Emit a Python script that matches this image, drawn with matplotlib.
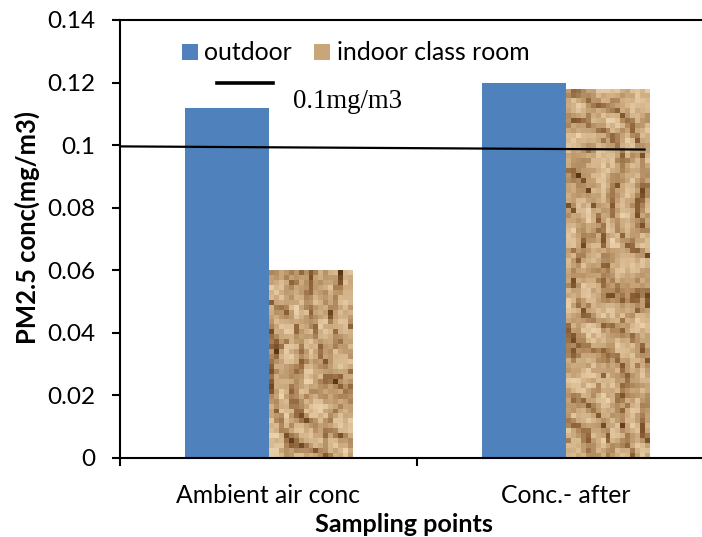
import numpy as np
import matplotlib
matplotlib.use("Agg")
import matplotlib.pyplot as plt
from matplotlib.colors import LinearSegmentedColormap
from matplotlib.patches import Patch
from matplotlib.textpath import TextPath
from matplotlib.font_manager import FontProperties

categories = ["Ambient air conc", "Conc.- after"]
outdoor = [0.112, 0.120]
indoor = [0.060, 0.118]
series_names = ["outdoor", "indoor class room"]
yticks = [0, 0.02, 0.04, 0.06, 0.08, 0.10, 0.12, 0.14]
ytick_labels = ["0", "0.02", "0.04", "0.06", "0.08", "0.1", "0.12", "0.14"]
limit_line_x = [-0.5, 1.27]
limit_line_y = [0.0996, 0.0986]
limit_label = "0.1mg/m3"

SANS = "Lato"
SERIF = "Liberation Serif"
BLUE = "#4f81bd"
wood = LinearSegmentedColormap.from_list(
    "wood", ["#5a3616", "#8a5f36", "#b08a5e", "#c8a67b", "#dbbd95", "#ecd3ad"])


def fit_size(text, target_px, family=SANS, weight="normal"):
    fp = FontProperties(family=family, weight=weight, size=10)
    w = TextPath((0, 0), text, prop=fp).get_extents().width  # in points at size 10
    return 10 * target_px / (w * 100 / 72)


def texture(nr, nc, seed):
    i, j = np.mgrid[0:nr, 0:nc].astype(float)
    h = np.sin(i * 12.9898 + j * 78.233 + seed) * 43758.5453
    noise = h - np.floor(h)
    field = 0.22 * i + 0.42 * j + 1.6 * np.sin(0.13 * i - 0.21 * j + seed) \
        + 0.8 * np.sin(0.31 * i + 0.17 * j + 2 * seed)
    grain = np.abs(np.sin(field)) ** 0.6
    field2 = 0.30 * i - 0.35 * j + 1.2 * np.sin(0.2 * i + 0.1 * j + seed)
    grain2 = np.abs(np.sin(field2)) ** 0.4
    t = 0.45 * grain * grain2 + 0.2 * grain + 0.35 * noise
    return (t - t.min()) / np.ptp(t)


fig = plt.figure(figsize=(7.02, 5.37), dpi=100)
ax = fig.add_axes([120 / 702, 79 / 537, 594 / 702, 438 / 537])

x = np.arange(len(categories))
w = 0.28
ax.bar(x - w / 2, outdoor, w, color=BLUE, zorder=2)
bars_in = ax.bar(x + w / 2, indoor, w, color="none", zorder=2)
for k, b in enumerate(bars_in):
    x0 = b.get_x(); x1 = x0 + b.get_width(); h = b.get_height()
    nr = max(4, int(round(h / 0.14 * 438 / 5.0)))
    img = texture(nr, 17, seed=1.7 + k * 3.1)
    im = ax.imshow(img, cmap=wood, extent=[x0, x1, 0, h], aspect="auto",
                   interpolation="nearest", origin="lower", zorder=2)
    im.set_clip_path(b)

ax.plot(limit_line_x, limit_line_y, color="black", lw=1.6, zorder=3, solid_capstyle="butt")

tick_fs = fit_size("0.12", 46)
cat_fs = fit_size("Ambient air conc", 183)
xl_fs = fit_size("Sampling points", 176, weight="bold")
yl_fs = fit_size("PM2.5 conc(mg/m3)", 230, weight="bold")
leg_fs = fit_size("indoor class room", 189)
lim_fs = fit_size(limit_label, 107, family=SERIF)

ax.set_xlim(-0.5, 1.5)
ax.set_ylim(0, 0.14)
ax.set_yticks(yticks)
ax.set_yticklabels(ytick_labels, fontsize=tick_fs, family=SANS)
ax.set_xticks(x)
ax.set_xticklabels(categories, fontsize=cat_fs, family=SANS)
ax.tick_params(axis="x", which="major", length=0, pad=19)
ax.set_xticks([-0.5, 0.5, 1.5], minor=True)
ax.tick_params(axis="x", which="minor", length=6, width=1.5, direction="out")
ax.tick_params(axis="y", length=6, width=1.5, direction="out", pad=12)
for s in ["left", "bottom", "top", "right"]:
    ax.spines[s].set_linewidth(1.5)
    ax.spines[s].set_color("black")

ax.set_ylabel("PM2.5 conc(mg/m3)", fontsize=yl_fs, fontweight="bold", family=SANS)
ax.yaxis.label.set_verticalalignment("center")
ax.yaxis.set_label_coords((27 - 120) / 594, (458 - 228) / 438)
ax.set_xlabel("Sampling points", fontsize=xl_fs, fontweight="bold", family=SANS)
ax.xaxis.label.set_verticalalignment("center")
ax.xaxis.set_label_coords((404 - 120) / 594, (458 - 524) / 438)

handles = [Patch(facecolor=BLUE), Patch(facecolor="#c9a57c")]
leg = ax.legend(handles, series_names, ncol=2, frameon=False, loc="center left",
                bbox_to_anchor=(62 / 594, (458 - 53) / 438),
                handlelength=0.65, handleheight=0.65, handletextpad=0.25,
                columnspacing=0.9, borderaxespad=0, borderpad=0,
                prop={"family": SANS, "size": leg_fs})

fig.text(293 / 702, 1 - 101 / 537, limit_label, fontsize=lim_fs, family=SERIF,
         va="center", ha="left")
fig.add_artist(plt.Line2D([217 / 702, 273 / 702], [1 - 83 / 537, 1 - 83 / 537],
                          color="black", lw=2.6, transform=fig.transFigure))

fig.savefig("out.png", dpi=100)
